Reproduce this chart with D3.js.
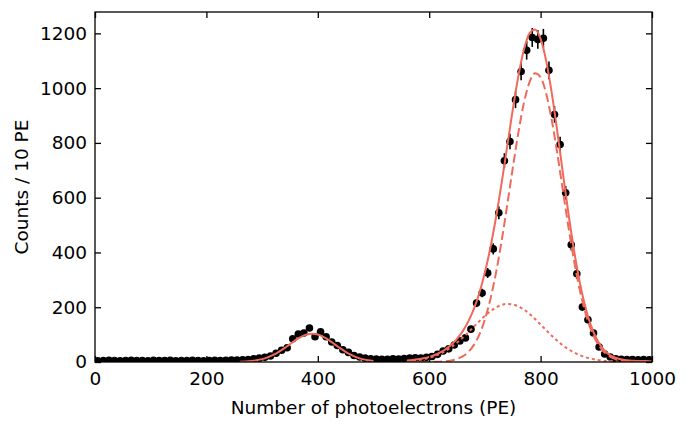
<!DOCTYPE html>
<html>
<head>
<meta charset="utf-8">
<script src="https://cdn.jsdelivr.net/npm/d3@7"></script>
<style>
  html, body { margin: 0; padding: 0; background: #fff; }
  svg text { font-family: "DejaVu Sans", sans-serif; fill: #000; }
</style>
</head>
<body>
<div id="chart"></div>
<script>
// --- Data ---
// histogram bins, 10 PE wide, centred at 5, 15, ... 995
const binCenters = d3.range(5, 1000, 10);
const counts = [
  4, 5, 6, 5, 4, 5, 6, 5, 5, 4, 6, 5, 5, 6, 4, 5, 5, 6, 5, 4, 5, 6, 5, 6, 7,
  7, 8, 9, 12, 14, 17, 22, 32, 43, 52, 85, 102, 106, 124, 92, 110, 92, 73, 60, 45,
  35, 24, 18, 14, 12, 11, 10, 10, 12, 11, 13, 14, 15, 14, 17,
  20, 28, 40, 48, 62, 77, 88, 120, 215, 252, 325, 413, 545, 735, 805, 958,
  1061, 1138, 1185, 1178, 1182, 1065, 904, 794, 618, 428, 322, 201, 154, 106, 55, 29,
  18, 12, 10, 9, 9, 8, 9, 8
];

// fitted curves, sampled every 10 PE
const lowFitX = d3.range(260, 510, 10);
const lowFit = [0.9, 1.7, 3.3, 6.1, 10.4, 16.8, 25.7, 37.1, 50.7, 65.4, 79.8, 92.0, 100.1,
  103, 100.1, 92.0, 79.8, 65.4, 50.7, 37.1, 25.7, 16.8, 10.4, 6.1, 3.3];

const mainFitX = d3.range(560, 1010, 10);
const mainFit = [5.9, 7.5, 10.0, 13.6, 18.7, 25.6, 34.9, 47.3, 63.5, 84.5, 111.8, 147.3,
  193.3, 252.2, 326.8, 418.9, 528.5, 653.0, 787.0, 921.0, 1043.0, 1139.9, 1199.9, 1214.1,
  1179.7, 1099.6, 982.6, 841.3, 690.0, 542.2, 408.1, 294.4, 203.6, 135.3, 86.5, 53.5,
  32.3, 19.3, 11.7, 7.5, 5.2, 4.1, 3.5, 3.2, 3.1];
const peakFit = [0, 0, 0, 0.1, 0.25, 0.6, 1.3, 2.8, 5.7, 11.0, 20.4, 36.3, 61.7, 100.1,
  155.3, 230.3, 326.4, 441.9, 572.1, 707.8, 836.7, 945.5, 1021.2, 1054.0, 1039.8, 980.4,
  883.5, 760.9, 626.2, 492.7, 370.4, 266.2, 182.8, 120.0, 75.3, 45.1, 25.9, 14.2, 7.4,
  3.7, 1.8, 0.8, 0.35, 0.15, 0.06];
const shoulderFit = [2.85, 4.5, 7.0, 10.5, 15.4, 22.0, 30.6, 41.5, 54.8, 70.5, 88.4, 108.0,
  128.6, 149.1, 168.5, 185.6, 199.1, 208.1, 211.9, 210.2, 203.3, 191.4, 175.7, 157.1,
  136.9, 116.2, 96.1, 77.4, 60.8, 46.5, 34.7, 25.2, 17.8, 12.3, 8.2, 5.4, 3.4, 2.1, 1.3,
  0.8, 0.4, 0.25, 0.1, 0.07, 0.03];

const xTicks = [0, 200, 400, 600, 800, 1000];
const yTicks = [0, 200, 400, 600, 800, 1000, 1200];

// --- Layout ---
const width = 689, height = 431;
const margin = { top: 12, right: 37, bottom: 69, left: 95 };
const red = "#f06a5b";
const fontSize = 18.5;

const svg = d3.select("#chart").append("svg")
    .attr("width", width)
    .attr("height", height);

const x = d3.scaleLinear().domain([0, 1000]).range([margin.left, width - margin.right]);
const y = d3.scaleLinear().domain([0, 1278]).range([height - margin.bottom, margin.top]);

svg.append("clipPath").attr("id", "plot-clip")
  .append("rect")
    .attr("x", margin.left).attr("y", margin.top)
    .attr("width", x(1000) - x(0)).attr("height", y(0) - y(1278));

const plot = svg.append("g").attr("clip-path", "url(#plot-clip)");

// data points with sqrt(N) error bars
const points = binCenters.map((c, i) => ({ x: c, y: counts[i] }));

plot.append("g")
    .attr("stroke", "#000")
    .attr("stroke-width", 1.6)
  .selectAll("line")
  .data(points)
  .join("line")
    .attr("x1", d => x(d.x)).attr("x2", d => x(d.x))
    .attr("y1", d => y(d.y - Math.sqrt(d.y)))
    .attr("y2", d => y(d.y + Math.sqrt(d.y)));

plot.append("g")
  .selectAll("circle")
  .data(points)
  .join("circle")
    .attr("cx", d => x(d.x))
    .attr("cy", d => y(d.y))
    .attr("r", 3.8)
    .attr("fill", "#000");

// fit curves
const line = d3.line()
    .x(d => x(d[0]))
    .y(d => y(d[1]))
    .curve(d3.curveMonotoneX);

function drawCurve(xs, ys, dash) {
  plot.append("path")
      .datum(xs.map((v, i) => [v, ys[i]]))
      .attr("d", line)
      .attr("fill", "none")
      .attr("stroke", red)
      .attr("stroke-width", 2)
      .attr("stroke-dasharray", dash);
}

drawCurve(mainFitX, shoulderFit, "3,3");
drawCurve(mainFitX, peakFit, "9,4");
drawCurve(lowFitX, lowFit, null);
drawCurve(mainFitX, mainFit, null);

// --- Axes: ticks pointing inward on all four sides ---
const tickLen = 6;
const fmt = d3.format("d");
function styleAxis(g) {
  g.select(".domain").remove();
  g.selectAll(".tick line").attr("stroke", "#000").attr("stroke-width", 1.3);
  g.selectAll(".tick text").attr("font-size", fontSize).attr("font-family", "DejaVu Sans, sans-serif");
}

svg.append("g")
    .attr("transform", `translate(0,${y(0)})`)
    .call(d3.axisBottom(x).tickValues(xTicks).tickFormat(fmt).tickSize(-tickLen).tickPadding(10))
    .call(styleAxis);

svg.append("g")
    .attr("transform", `translate(0,${y(1278)})`)
    .call(d3.axisTop(x).tickValues(xTicks).tickSize(-tickLen).tickFormat(""))
    .call(styleAxis);

svg.append("g")
    .attr("transform", `translate(${x(0)},0)`)
    .call(d3.axisLeft(y).tickValues(yTicks).tickFormat(fmt).tickSize(-tickLen).tickPadding(8))
    .call(styleAxis);

svg.append("g")
    .attr("transform", `translate(${x(1000)},0)`)
    .call(d3.axisRight(y).tickValues(yTicks).tickSize(-tickLen).tickFormat(""))
    .call(styleAxis);

// frame
svg.append("rect")
    .attr("x", x(0)).attr("y", y(1278))
    .attr("width", x(1000) - x(0)).attr("height", y(0) - y(1278))
    .attr("fill", "none")
    .attr("stroke", "#000")
    .attr("stroke-width", 1.3);

// axis titles
svg.append("text")
    .attr("x", (x(0) + x(1000)) / 2)
    .attr("y", 414)
    .attr("text-anchor", "middle")
    .attr("font-size", fontSize)
    .text("Number of photoelectrons (PE)");

svg.append("text")
    .attr("transform", `translate(28,${(y(0) + y(1278)) / 2}) rotate(-90)`)
    .attr("text-anchor", "middle")
    .attr("font-size", fontSize)
    .text("Counts / 10 PE");
</script>
</body>
</html>
